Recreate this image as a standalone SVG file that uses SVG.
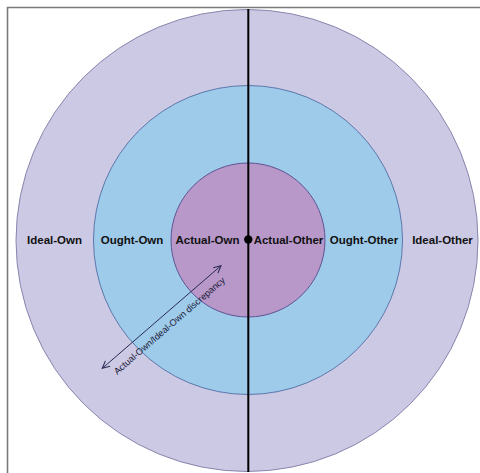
<svg xmlns="http://www.w3.org/2000/svg" width="480" height="473" viewBox="0 0 480 473">
<defs>
<style>
.lbl{font-family:"Liberation Sans",Arial,sans-serif;font-weight:bold;font-size:11.5px;fill:#111;text-anchor:middle}
.arrlbl{font-family:"Liberation Sans",Arial,sans-serif;font-size:9.2px;fill:#1a1a3a;text-anchor:middle}
</style>
<marker id="open" viewBox="0 0 10 10" refX="9" refY="5" markerWidth="9" markerHeight="9" markerUnits="userSpaceOnUse" orient="auto-start-reverse">
<path d="M1,1 L9,5 L1,9" fill="none" stroke="#2a2a55" stroke-width="1.2"/>
</marker>
</defs>
<rect width="480" height="473" fill="#ffffff"/>
<path d="M7.5,473 V7.5 H480" fill="none" stroke="#7a7a7a" stroke-width="1.6"/>
<g id="ideal">
<circle cx="247" cy="240.5" r="231" fill="#ccc9e4" stroke="#8985ad" stroke-width="1"/>
</g>
<g id="ought">
<circle cx="248" cy="240" r="154.5" fill="#9fcbea" stroke="#5b78ad" stroke-width="1"/>
</g>
<g id="actual">
<circle cx="248" cy="240" r="77" fill="#b798c8" stroke="#5f5496" stroke-width="1"/>
</g>
<g id="connectors">
<line x1="248.3" y1="9" x2="248.3" y2="472" stroke="#000" stroke-width="2"/>
<circle cx="248.3" cy="239.5" r="4.2" fill="#000"/>
<line x1="102.3" y1="368.3" x2="221" y2="265.7" stroke="#2a2a55" stroke-width="1" marker-start="url(#open)" marker-end="url(#open)"/>
<text class="arrlbl" transform="translate(171.5,328) rotate(-40.8)">Actual-Own/Ideal-Own discrepancy</text>
</g>
<g id="labels">
<text class="lbl" x="54.5" y="244">Ideal-Own</text>
<text class="lbl" x="132" y="244">Ought-Own</text>
<text class="lbl" x="207.5" y="244">Actual-Own</text>
<text class="lbl" x="288.5" y="244">Actual-Other</text>
<text class="lbl" x="364" y="244">Ought-Other</text>
<text class="lbl" x="442.5" y="244">Ideal-Other</text>
</g>
</svg>
